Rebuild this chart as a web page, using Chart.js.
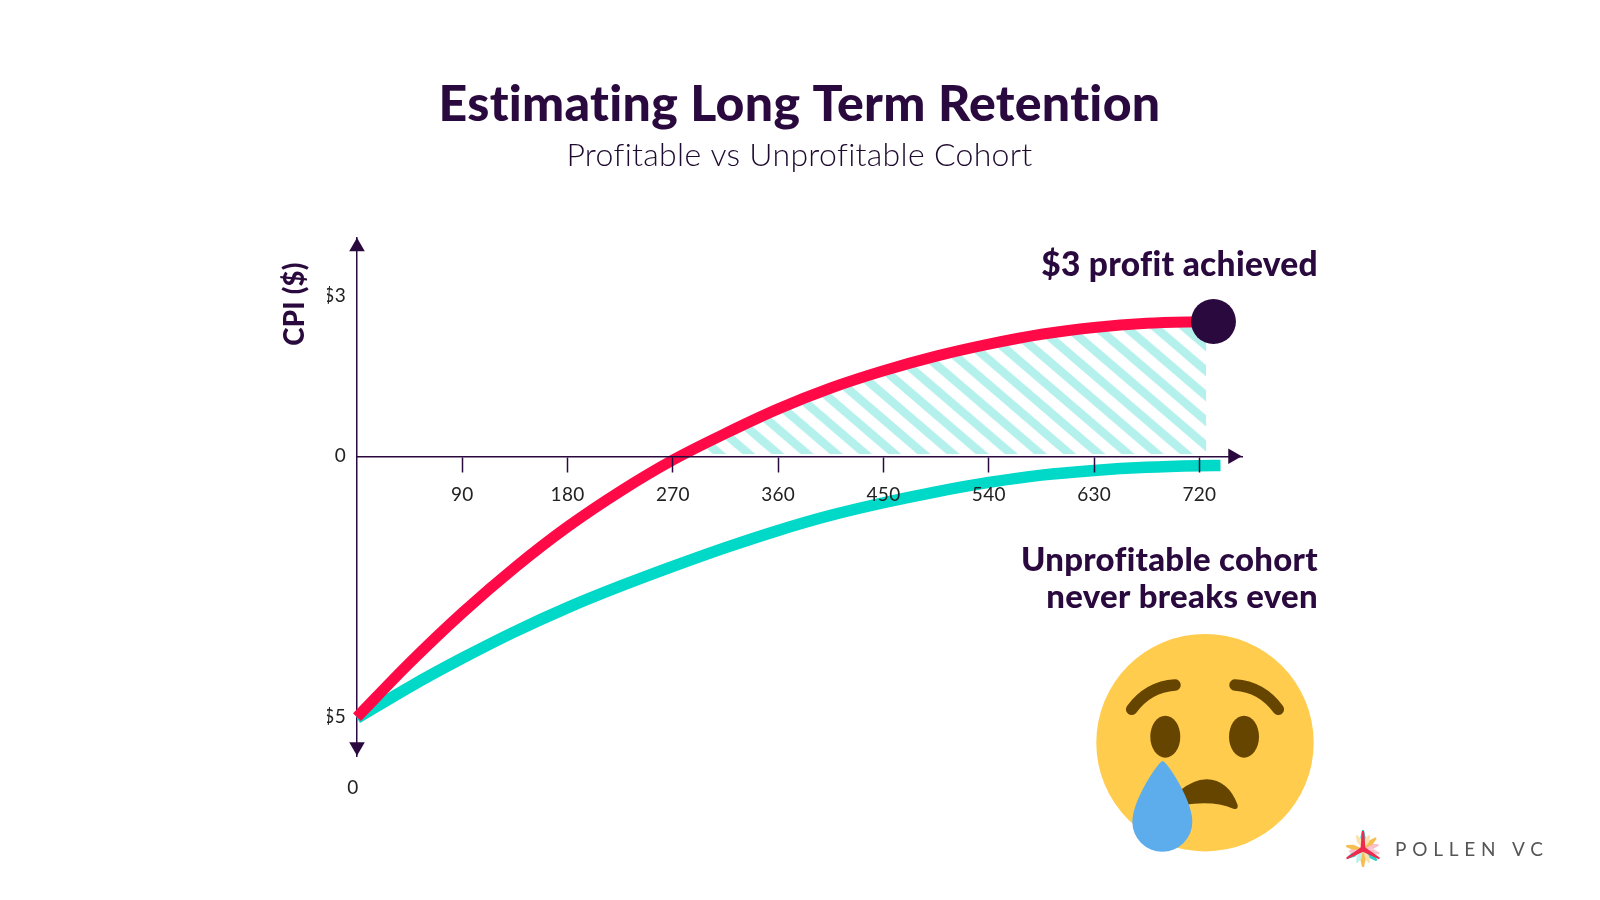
<!DOCTYPE html>
<html><head><meta charset="utf-8">
<style>html,body{margin:0;padding:0;background:#fff}canvas{display:block}</style>
<script src="https://cdn.jsdelivr.net/npm/chart.js@4"></script>
</head><body><canvas id="c" width="1600" height="900"></canvas>
<script>
const xTicks = [90,180,270,360,450,540,630,720];
const yTickValues = [3.07,0,-5];
const yTickLabels = ['$3','0','$5'];

const profitDays = [0,45,90,135,180,225,270,315,360,405,450,495,540,585,630,675,720,732];
const profitValues = [-5,-3.96,-3,-2.13,-1.35,-0.67,-0.07,0.44,0.91,1.31,1.64,1.92,2.15,2.34,2.47,2.55,2.58,2.585];

const lossDays = [0,45,90,135,180,225,270,315,360,405,450,495,540,585,630,675,720,738];
const lossValues = [-5.02,-4.42,-3.87,-3.36,-2.9,-2.49,-2.11,-1.75,-1.42,-1.13,-0.89,-0.68,-0.5,-0.36,-0.27,-0.21,-0.18,-0.175];

const hatchDays = [291,315,360,405,450,495,540,585,630,675,720,726];
const hatchValues = [0.17,0.44,0.91,1.31,1.64,1.92,2.15,2.34,2.47,2.55,2.58,2.582];

const endPoint = [{x:732,y:2.585}];
const arrowUp = [{x:0,y:4.02}];
const arrowDown = [{x:0,y:-5.57}];
const arrowRight = [{x:748.5,y:0}];

const DARK='#2A0A3E', RED='#FF0A47', TEAL='#00D8C8', HATCH='#B4F0EC';
const pairs=(xs,ys)=>xs.map((x,i)=>({x,y:ys[i]}));

function hatchPattern(ctx){
  const t=document.createElement('canvas');t.width=29;t.height=25;
  const g=t.getContext('2d');g.fillStyle=HATCH;
  for(let k=-2;k<=1;k++){
    g.beginPath();g.moveTo(k*29-13,0);g.lineTo(k*29,0);g.lineTo(k*29+29,25);g.lineTo(k*29+16,25);g.closePath();g.fill();
  }
  const p=ctx.createPattern(t,'repeat');
  p.setTransform(new DOMMatrix().translate(725,453).scale(29.17/29,1));
  return p;
}

function txt(ctx,s,x,y,font,color,align,spacing){
  ctx.save();ctx.font=font;ctx.fillStyle=color;ctx.textAlign=align||'left';ctx.textBaseline='middle';
  if(spacing)ctx.letterSpacing=spacing;
  ctx.fillText(s,x,y);ctx.restore();
}

const Z=(a,b)=>[1060+a/3,620+b/3];
function drawEmoji(ctx){
  ctx.save();
  ctx.fillStyle='#FFCC4D';ctx.beginPath();ctx.arc(1205,742.7,108.7,0,Math.PI*2);ctx.fill();
  ctx.fillStyle='#664500';
  ctx.beginPath();ctx.ellipse(1165.3,736.7,15,21,0,0,Math.PI*2);ctx.fill();
  ctx.beginPath();ctx.ellipse(1244,736.7,15,21,0,0,Math.PI*2);ctx.fill();
  ctx.strokeStyle='#664500';ctx.lineWidth=11.5;ctx.lineCap='round';
  ctx.beginPath();ctx.moveTo(...Z(215,268));ctx.quadraticCurveTo(...Z(265,200),...Z(345,195));ctx.stroke();
  ctx.beginPath();ctx.moveTo(...Z(525,195));ctx.quadraticCurveTo(...Z(605,200),...Z(655,268));ctx.stroke();
  ctx.beginPath();ctx.moveTo(...Z(355,515));ctx.quadraticCurveTo(...Z(400,478),...Z(440,478));
  ctx.quadraticCurveTo(...Z(505,480),...Z(533,555));ctx.quadraticCurveTo(...Z(535,570),...Z(520,566));
  ctx.quadraticCurveTo(...Z(460,540),...Z(370,555));ctx.closePath();ctx.fill();
  ctx.fillStyle='#5DADEC';
  ctx.beginPath();ctx.moveTo(...Z(308,423));
  ctx.bezierCurveTo(...Z(320,423),...Z(397,540),...Z(397,605));
  ctx.arc(1060+307/3,620+605/3,30,0,Math.PI);
  ctx.bezierCurveTo(...Z(217,540),...Z(296,423),...Z(308,423));
  ctx.closePath();ctx.fill();
  ctx.restore();
}
function drawLogo(ctx){
  const cx=1363,cy=849;
  const arms=[[15,'#FAC0CC',17],[40,'#2FD0C8',18],[65,'#FBE3B0',15],[90,'#F5BE50',18],[115,'#BDF0EC',15],[150,'#2FD0C8',18],[170,'#FAC0CC',14],[190,'#F5BE50',17],[-15,'#FAC0CC',16],[-40,'#F5BE50',17],[-65,'#FBE3B0',15],[-90,'#2FD0C8',19],[-115,'#FBE3B0',15]];
  ctx.save();ctx.translate(cx,cy);
  for(const [a,c,l] of arms){
    ctx.save();ctx.rotate(a*Math.PI/180);ctx.fillStyle=c;
    ctx.beginPath();ctx.moveTo(0,0);ctx.lineTo(l*0.6,-2.6);ctx.lineTo(l,-1);ctx.lineTo(l,1);ctx.lineTo(l*0.6,2.6);ctx.closePath();ctx.fill();ctx.restore();
  }
  for(const a of [-90,30,150]){
    const l=a===-90?18:19;
    ctx.save();ctx.rotate(a*Math.PI/180);ctx.fillStyle='#EE2A4E';
    ctx.beginPath();ctx.moveTo(0,-2.5);ctx.lineTo(l,-1);ctx.lineTo(l,1);ctx.lineTo(0,2.5);ctx.closePath();ctx.fill();ctx.restore();
  }
  ctx.restore();
}

const decor={id:'decor',
 beforeDraw(chart){chart.ctx.letterSpacing='0.3px';},
 afterDraw(chart){
  const ctx=chart.ctx;
  ctx.save();ctx.translate(295,304);ctx.rotate(-Math.PI/2);
  txt(ctx,'CPI ($)',0,0,'900 27.5px Lato',DARK,'center');ctx.restore();
  txt(ctx,'0',353,788,'19px Lato','#222','center');
  txt(ctx,'$3 profit achieved',1318,265,'900 33.5px Lato',DARK,'right');
  txt(ctx,'Unprofitable cohort',1318,560,'900 32.9px Lato',DARK,'right');
  txt(ctx,'never breaks even',1318,597,'900 32.9px Lato',DARK,'right');
  drawEmoji(ctx);drawLogo(ctx);
  txt(ctx,'POLLEN VC',1395,850,'400 19px Lato','#555','left','5.8px');
}};

const ctx=document.getElementById('c').getContext('2d');
const tri=(d,rot,o)=>({data:d,pointStyle:'triangle',pointRadius:9,pointRotation:rot,pointBackgroundColor:DARK,pointBorderWidth:0,borderWidth:0,showLine:false,clip:false,order:o});
new Chart(ctx,{
  type:'line',
  data:{datasets:[
    {label:'$3 profit achieved',data:endPoint,pointRadius:22.5,pointBackgroundColor:DARK,pointBorderWidth:0,showLine:false,clip:false,order:0},
    {label:'Profitable cohort',data:pairs(profitDays,profitValues),borderColor:RED,borderWidth:11,pointRadius:0,cubicInterpolationMode:'monotone',borderCapStyle:'butt',fill:false,clip:false,order:1},
    {label:'Unprofitable cohort',data:pairs(lossDays,lossValues),borderColor:TEAL,borderWidth:11.5,pointRadius:0,cubicInterpolationMode:'monotone',borderCapStyle:'butt',fill:false,clip:false,order:2},
    {label:'Profit area',data:pairs(hatchDays,hatchValues),borderWidth:0,borderColor:'transparent',pointRadius:0,cubicInterpolationMode:'monotone',fill:{target:{value:0.04},above:hatchPattern(ctx),below:'transparent'},order:3},
    tri(arrowUp,0,4),tri(arrowDown,180,4),tri(arrowRight,90,4)
  ]},
  options:{
    responsive:false,animation:false,
    layout:{padding:{left:327,right:358,top:0,bottom:144}},
    plugins:{
      legend:{display:false},tooltip:{enabled:false},
      title:{display:true,fullSize:false,text:'Estimating Long Term Retention',color:DARK,font:{family:'Lato',weight:'900',size:50,lineHeight:1.2},padding:{top:75,bottom:0}},
      subtitle:{display:true,fullSize:false,text:'Profitable vs Unprofitable Cohort',color:'#1E0A2E',font:{family:'Lato',weight:'300',size:32,lineHeight:1.2},padding:{top:1,bottom:63}}
    },
    scales:{
      x:{type:'linear',position:{y:0},min:0,max:756.4,
        afterBuildTicks(a){a.ticks=xTicks.map(v=>({value:v}));},
        border:{color:DARK,width:1.5,z:1},
        grid:{drawOnChartArea:false,drawTicks:true,tickLength:15,tickColor:DARK,tickWidth:1.5,z:1},
        ticks:{autoSkip:false,maxRotation:0,padding:12,color:'#222',z:1,font:{family:'Lato',size:19}}},
      y:{type:'linear',position:'left',min:-5.745,max:4.197,
        afterFit(s){s.width=30;},
        afterBuildTicks(a){a.ticks=yTickValues.map(v=>({value:v}));},
        border:{color:DARK,width:1.5},
        grid:{drawOnChartArea:false,drawTicks:false},
        ticks:{autoSkip:false,padding:11,color:'#222',font:{family:'Lato',size:19},
          callback(v){return yTickLabels[yTickValues.indexOf(v)];}}}
    }
  },
  plugins:[decor]
});
</script></body></html>
